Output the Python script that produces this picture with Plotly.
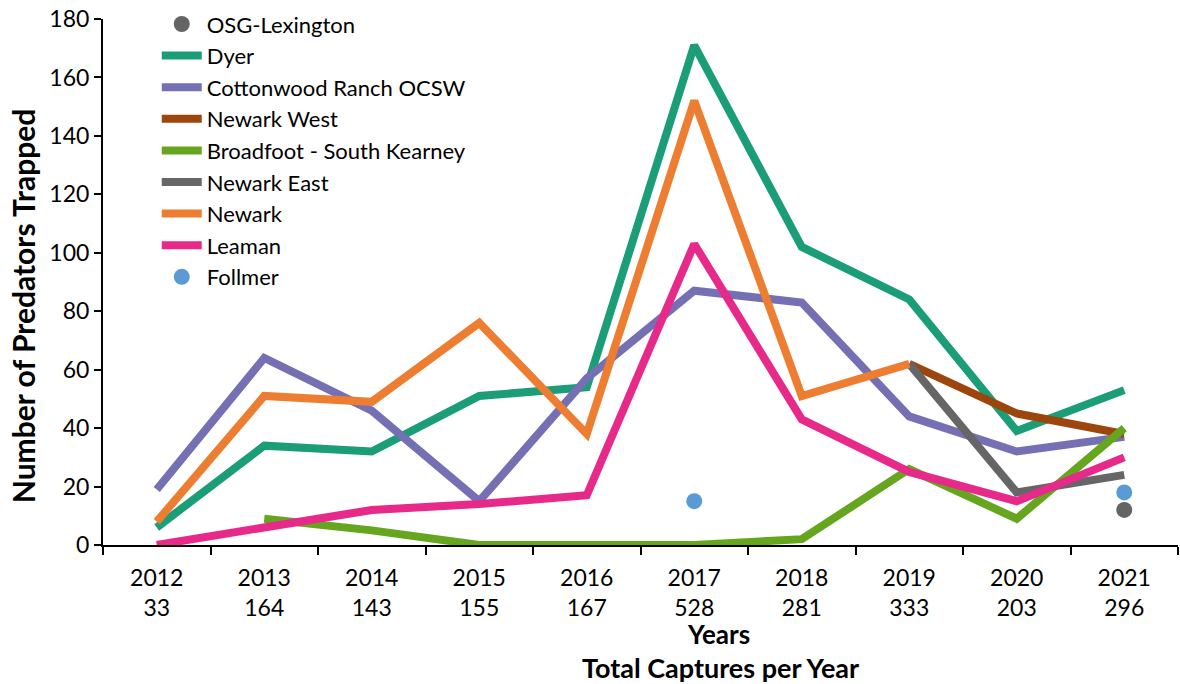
import plotly.graph_objects as go

# Categories and totals (tick labels)
years = ["2012", "2013", "2014", "2015", "2016", "2017", "2018", "2019", "2020", "2021"]
totals = ["33", "164", "143", "155", "167", "528", "281", "333", "203", "296"]

# Series values (None = no data)
osg_lexington = [None, None, None, None, None, None, None, None, None, 12]
dyer = [6, 34, 32, 51, 54, 171, 102, 84, 39, 53]
cottonwood = [19, 64, 46, 15, 57, 87, 83, 44, 32, 37]
newark_west = [None, None, None, None, None, None, None, 62, 45, 38]
broadfoot = [None, 9, 5, 0, 0, 0, 2, 26, 9, 40]
newark_east = [None, None, None, None, None, None, None, 62, 18, 24]
newark = [8, 51, 49, 76, 38, 152, 51, 62, None, None]
leaman = [0, 6, 12, 14, 17, 103, 43, 25, 15, 30]
follmer = [None, None, None, None, None, 15, None, None, None, 18]

FONT = "Lato"

fig = go.Figure()

fig.add_trace(go.Scatter(
    x=years, y=osg_lexington, mode="markers", name="OSG-Lexington",
    marker=dict(color="#646464", size=16), cliponaxis=False
))

line_series = [
    ("Dyer", dyer, "#1b9e77"),
    ("Cottonwood Ranch OCSW", cottonwood, "#7570b3"),
    ("Newark West", newark_west, "#9c460e"),
    ("Broadfoot - South Kearney", broadfoot, "#66a61e"),
    ("Newark East", newark_east, "#666666"),
    ("Newark", newark, "#ed7d31"),
    ("Leaman", leaman, "#e7298a"),
]
for name, vals, color in line_series:
    fig.add_trace(go.Scatter(
        x=years, y=vals, mode="lines", name=name,
        line=dict(color=color, width=8), connectgaps=False
    ))

fig.add_trace(go.Scatter(
    x=years, y=follmer, mode="markers", name="Follmer",
    marker=dict(color="#5b9bd5", size=16), cliponaxis=False
))

# axis titles placed as annotations so they sit where the original has them
titles = [
    dict(text="<b>Years</b>", x=0.573, y=0, yshift=-89, font=dict(size=26)),
    dict(text="<b>Total Captures per Year</b>", x=0.574, y=0, yshift=-122, font=dict(size=27)),
    dict(text="<b>Number of Predators Trapped</b>", x=0, xshift=-80, y=0.454,
         textangle=-90, font=dict(size=30)),
]
for t in titles:
    t.update(xref="paper", yref="paper", showarrow=False,
             xanchor="center", yanchor="middle")
    t["font"].update(family=FONT, color="black")

fig.update_layout(
    width=1180, height=684,
    margin=dict(l=103, r=2, t=19, b=139, autoexpand=False),
    paper_bgcolor="white", plot_bgcolor="white",
    font=dict(family=FONT, size=23, color="black"),
    showlegend=True,
    legend=dict(
        x=0.05, y=1.03, xanchor="left", yanchor="top",
        bgcolor="rgba(0,0,0,0)", font=dict(size=22),
        tracegroupgap=0, itemwidth=40
    ),
    annotations=titles,
)

fig.update_xaxes(
    type="category",
    range=[-0.5, 9.5],
    tickvals=years,
    ticktext=[f"{y}<br>{t}" for y, t in zip(years, totals)],
    tickson="boundaries",
    ticks="outside", ticklen=8, tickwidth=2, tickcolor="black",
    ticklabelstandoff=11,
    showline=True, linecolor="black", linewidth=2,
    showgrid=False,
)
fig.update_yaxes(
    range=[0, 180], dtick=20,
    ticks="outside", ticklen=7, tickwidth=2, tickcolor="black",
    ticklabeloverflow="allow",
    showline=True, linecolor="black", linewidth=2,
    showgrid=False, zeroline=False,
)

# drop the default page margin so the figure sits flush in the window
fig.write_html(
    "out.html",
    config={"displayModeBar": False},
    post_script="document.body.style.margin = '0';",
)
